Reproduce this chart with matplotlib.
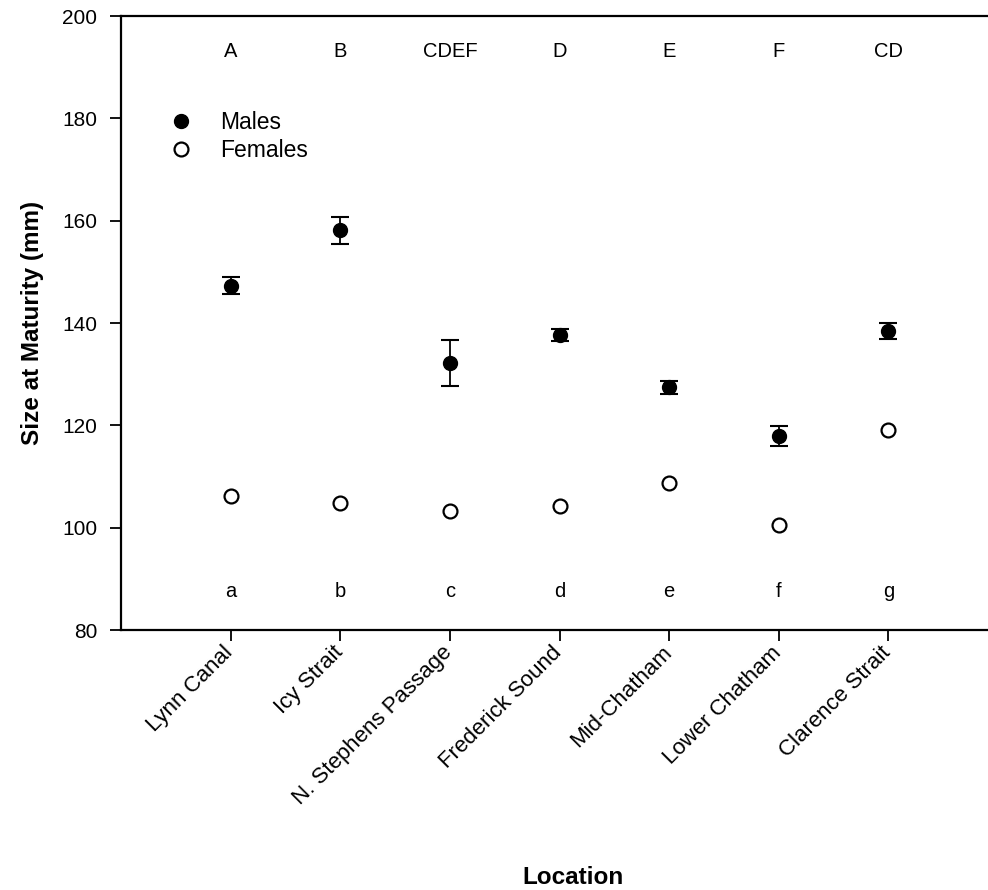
import matplotlib
matplotlib.use("Agg")
import matplotlib.pyplot as plt
import matplotlib.transforms as mtransforms
import numpy as np

plt.rcParams["font.family"] = ["Liberation Sans", "DejaVu Sans"]

locations = ["Lynn Canal", "Icy Strait", "N. Stephens Passage", "Frederick Sound",
             "Mid-Chatham", "Lower Chatham", "Clarence Strait"]

male_size = [147.3, 158.1, 132.1, 137.7, 127.4, 117.9, 138.5]
male_err = [1.7, 2.7, 4.5, 1.2, 1.2, 1.9, 1.6]

female_size = [106.1, 104.9, 103.3, 104.2, 108.7, 100.5, 119.1]
female_err = [0.3, 0.3, 0.3, 0.3, 0.3, 0.3, 0.3]

male_groups = ["A", "B", "CDEF", "D", "E", "F", "CD"]
female_groups = ["a", "b", "c", "d", "e", "f", "g"]

x = np.arange(1, len(locations) + 1)

fig = plt.figure(figsize=(9.88, 8.9), dpi=100)
ax = fig.add_axes([0.1225, 0.2921, 0.8877, 0.6899])

# males
ax.errorbar(x, male_size, yerr=male_err, fmt="o", color="black",
            markersize=10, capsize=6.5, elinewidth=1.3, capthick=1.5,
            label="Males")

# females
ax.errorbar(x, female_size, yerr=female_err, fmt="o", color="black",
            markerfacecolor="white", markeredgecolor="black", markeredgewidth=1.6,
            markersize=10, capsize=0, elinewidth=1.0,
            label="Females")

# group letters
for xi, g in zip(x, male_groups):
    ax.text(xi, 192.0, g, ha="center", va="baseline", fontsize=14.5)
for xi, g in zip(x, female_groups):
    ax.text(xi, 86.5, g, ha="center", va="baseline", fontsize=14.5)

ax.set_xlim(0, 8)
ax.set_ylim(80, 200)
ax.set_yticks(np.arange(80, 201, 20))
ax.set_xticks(x)
ax.set_xticklabels(locations, rotation=45, ha="right", rotation_mode="anchor",
                   fontsize=16)
ax.tick_params(axis="y", labelsize=15, length=8, width=1.3, direction="out", pad=9)
ax.tick_params(axis="x", length=8, width=1.3, direction="out", pad=5)

# nudge the rotated labels a bit left/up
shift = mtransforms.ScaledTranslation(-8 / 100, 6 / 100, fig.dpi_scale_trans)
for lab in ax.get_xticklabels():
    lab.set_transform(lab.get_transform() + shift)

for s in ["left", "bottom", "top"]:
    ax.spines[s].set_linewidth(1.6)
ax.spines["right"].set_visible(False)

ax.set_ylabel("Size at Maturity (mm)", fontsize=17.5, fontweight="bold")
ax.set_xlabel("Location", fontsize=17.5, fontweight="bold")
ax.yaxis.set_label_coords(-0.088, 0.5)
ax.xaxis.set_label_coords(0.515, -0.385)

h, l = ax.get_legend_handles_labels()
ax.legend([hh[0] for hh in h], l, loc="upper left", bbox_to_anchor=(0.055, 0.845),
          frameon=False, fontsize=16.5, handlelength=1.0, handletextpad=1.2,
          labelspacing=0.2, borderpad=0, borderaxespad=0)

fig.savefig("out.png", dpi=100)
